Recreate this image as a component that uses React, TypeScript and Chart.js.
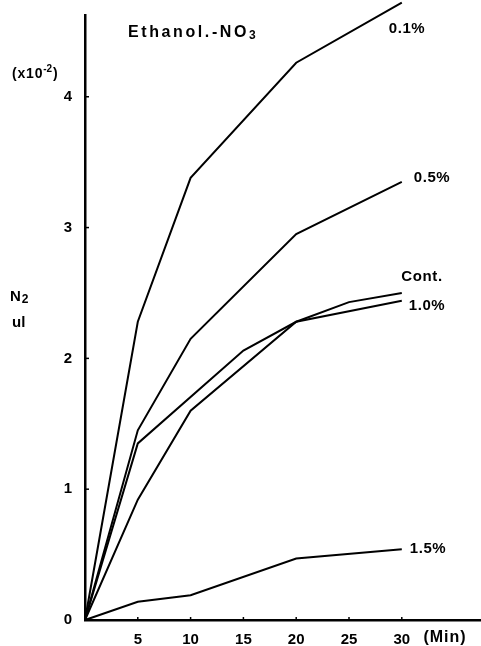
import React, { useEffect, useRef } from "react";
import { Chart, registerables } from "chart.js";

Chart.register(...registerables);

// ---- Data ----
const minutes01 = [0, 5, 10, 20, 30];
const values01 = [0, 2.28, 3.38, 4.26, 4.72];

const minutes05 = [0, 5, 10, 20, 30];
const values05 = [0, 1.45, 2.15, 2.95, 3.35];

const minutesCont = [0, 5, 15, 20, 25, 30];
const valuesCont = [0, 1.35, 2.06, 2.28, 2.43, 2.5];

const minutes10 = [0, 5, 10, 20, 30];
const values10 = [0, 0.92, 1.6, 2.28, 2.44];

const minutes15 = [0, 5, 10, 20, 30];
const values15 = [0, 0.14, 0.19, 0.47, 0.54];

const seriesNames = ["0.1%", "0.5%", "Cont.", "1.0%", "1.5%"];
const xTickValues = [5, 10, 15, 20, 25, 30];
const yTickValues = [0, 1, 2, 3, 4];

const FONT = '"Liberation Sans", Arial, sans-serif';

const toPoints = (xs: number[], ys: number[]) => xs.map((x, i) => ({ x, y: ys[i] }));

const annotationPlugin = {
  id: "annotations",
  afterDraw(chart: any) {
    const ctx = chart.ctx as CanvasRenderingContext2D;
    const xs = chart.scales.x;
    const ys = chart.scales.y;
    ctx.save();
    ctx.fillStyle = "#000";
    ctx.strokeStyle = "#000";

    // small inward tick marks
    ctx.lineWidth = 1.5;
    yTickValues.slice(1).forEach((v) => {
      const py = ys.getPixelForValue(v);
      ctx.beginPath();
      ctx.moveTo(xs.left, py);
      ctx.lineTo(xs.left + 4, py);
      ctx.stroke();
    });
    xTickValues.forEach((v) => {
      const px = xs.getPixelForValue(v);
      ctx.beginPath();
      ctx.moveTo(px, ys.bottom);
      ctx.lineTo(px, ys.bottom - 3);
      ctx.stroke();
    });

    const setFont = (size: number, spacing: number) => {
      ctx.font = `bold ${size}px ${FONT}`;
      (ctx as any).letterSpacing = `${spacing}px`;
    };
    const text = (s: string, x: number, y: number, size: number, spacing = 0, align: CanvasTextAlign = "center") => {
      setFont(size, spacing);
      ctx.textAlign = align;
      ctx.textBaseline = "middle";
      ctx.fillText(s, x, y);
      return ctx.measureText(s).width;
    };

    // series labels
    const labelPos: [number, number][] = [
      [407, 29],
      [432, 178],
      [422, 277],
      [427, 306],
      [428, 549],
    ];
    seriesNames.forEach((n, i) => text(n, labelPos[i][0], labelPos[i][1], 15, 0.6));

    // title: Ethanol.-NO3
    const w = text("Ethanol.-NO", 128, 33, 16, 2.6, "left");
    text("3", 128 + w, 36, 12, 0, "left");

    // (x10^-2)
    const w1 = text("(x10", 12, 74, 14, 0.8, "left");
    const w2 = text("-2", 12 + w1, 69, 10, 0, "left");
    text(")", 12 + w1 + w2 + 1, 74, 14, 0, "left");

    // y axis title: N2 / ul
    const wn = text("N", 10, 297, 15, 0, "left");
    text("2", 10 + wn + 1, 300, 12, 0, "left");
    text("ul", 12, 323, 15, 0, "left");

    // (Min)
    text("(Min)", 445, 638, 16, 1);

    ctx.restore();
  },
};

export default function App() {
  const canvasRef = useRef<HTMLCanvasElement | null>(null);

  useEffect(() => {
    if (!canvasRef.current) return;
    const mk = (label: string, xs: number[], ys: number[]) => ({
      label,
      data: toPoints(xs, ys),
      borderColor: "#000",
      backgroundColor: "#000",
      borderWidth: 2,
      pointRadius: 0,
      tension: 0,
      fill: false,
      clip: false as any,
    });
    const tickFont = { family: FONT, size: 15, weight: "bold" as const };
    const chart = new Chart(canvasRef.current, {
      type: "line",
      data: {
        datasets: [
          mk(seriesNames[0], minutes01, values01),
          mk(seriesNames[1], minutes05, values05),
          mk(seriesNames[2], minutesCont, valuesCont),
          mk(seriesNames[3], minutes10, values10),
          mk(seriesNames[4], minutes15, values15),
        ],
      },
      options: {
        responsive: false,
        animation: false,
        devicePixelRatio: 1,
        layout: { padding: { top: 15, right: 0, left: 0, bottom: 0 } },
        plugins: {
          legend: { display: false },
          tooltip: { enabled: false },
          title: { display: false },
        },
        scales: {
          x: {
            type: "linear",
            min: 0,
            max: 37.5,
            afterBuildTicks: (s: any) => {
              s.ticks = xTickValues.map((v) => ({ value: v }));
            },
            afterFit: (s: any) => {
              s.height = 26;
              s.paddingLeft = 0;
              s.paddingRight = 0;
            },
            grid: { display: false, drawTicks: false },
            border: { display: true, color: "#000", width: 2.5 },
            ticks: {
              color: "#000",
              font: tickFont,
              padding: 11,
              maxRotation: 0,
              autoSkip: false,
            },
          },
          y: {
            type: "linear",
            min: 0,
            max: 4.625,
            afterBuildTicks: (s: any) => {
              s.ticks = yTickValues.map((v) => ({ value: v }));
            },
            afterFit: (s: any) => {
              s.width = 85;
              s.paddingTop = 0;
              s.paddingBottom = 0;
            },
            grid: { display: false, drawTicks: false },
            border: { display: true, color: "#000", width: 2.5 },
            ticks: {
              color: "#000",
              font: tickFont,
              padding: 13,
              autoSkip: false,
            },
          },
        },
      },
      plugins: [annotationPlugin],
    });
    return () => chart.destroy();
  }, []);

  return (
    <div style={{ position: "fixed", left: 0, top: 0, width: 481, height: 646, background: "#fff" }}>
      <canvas ref={canvasRef} width={481} height={646} style={{ width: 481, height: 646, display: "block" }} />
    </div>
  );
}
